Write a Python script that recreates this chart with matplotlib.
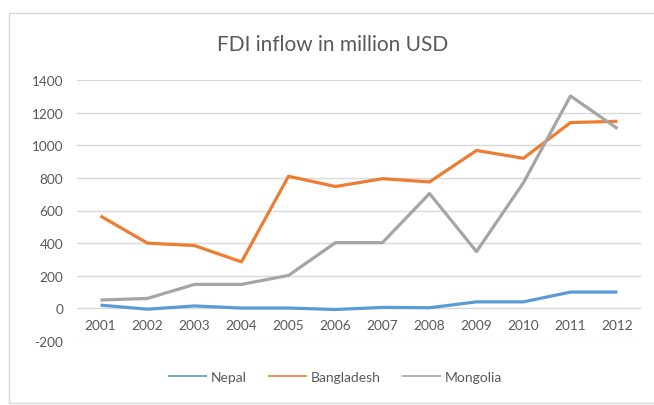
import matplotlib
matplotlib.use("Agg")
import matplotlib.pyplot as plt
from matplotlib.patches import Rectangle

years = ["2001", "2002", "2003", "2004", "2005", "2006",
         "2007", "2008", "2009", "2010", "2011", "2012"]
nepal = [20, -5, 15, 2, 2, -7, 6, 4, 40, 40, 100, 100]
bangladesh = [566, 400, 385, 285, 810, 747, 795, 775, 968, 920, 1139, 1147]
mongolia = [51, 61, 147, 147, 202, 403, 403, 704, 348, 771, 1302, 1102]
series_names = ["Nepal", "Bangladesh", "Mongolia"]
y_ticks = [-200, 0, 200, 400, 600, 800, 1000, 1200, 1400]

colors = ["#5B9BD5", "#ED7D31", "#A5A5A5"]
text_color = "#595959"
grid_color = "#D9D9D9"

plt.rcParams["font.family"] = ["Lato", "DejaVu Sans"]

W, H = 654, 406
fig = plt.figure(figsize=(W / 100, H / 100), dpi=100)
fig.patch.set_facecolor("white")

# chart frame (open on the right side)
fig.add_artist(Rectangle((9 / W, 2 / H), 1.2, 390 / H, transform=fig.transFigure,
                         fill=False, edgecolor=grid_color, lw=1.0, clip_on=False))

ax = fig.add_axes([77 / W, 64 / H, 564 / W, 261 / H])
x = list(range(len(years)))
lines = []
for vals, name, c in zip([nepal, bangladesh, mongolia], series_names, colors):
    ln, = ax.plot(x, vals, color=c, lw=2.3, label=name, solid_joinstyle="round",
                  solid_capstyle="butt")
    lines.append(ln)

ax.set_xlim(-0.5, len(years) - 0.5)
ax.set_ylim(-200, 1400)
ax.set_yticks(y_ticks)
ax.set_yticklabels([str(v) for v in y_ticks])
ax.set_xticks(x)
ax.set_xticklabels(years)
ax.grid(axis="y", color=grid_color, lw=1.0)
ax.set_axisbelow(True)
for s in ax.spines.values():
    s.set_visible(False)
ax.tick_params(axis="both", length=0, colors=text_color, labelsize=9.8)
ax.tick_params(axis="y", pad=10)
ax.tick_params(axis="x", pad=-16)

fig.text(333 / W, 1 - 45 / H, "FDI inflow in million USD", ha="center", va="center",
         fontsize=15, color=text_color)

leg = fig.legend(handles=lines, loc="center", bbox_to_anchor=(335 / W, 1 - 378 / H),
                 ncol=3, frameon=False, fontsize=10, handlelength=2.8,
                 handletextpad=0.3, columnspacing=1.5, labelcolor=text_color)
for h in leg.get_lines():
    h.set_linewidth(1.2)

fig.savefig("out.png", dpi=100, facecolor="white")
